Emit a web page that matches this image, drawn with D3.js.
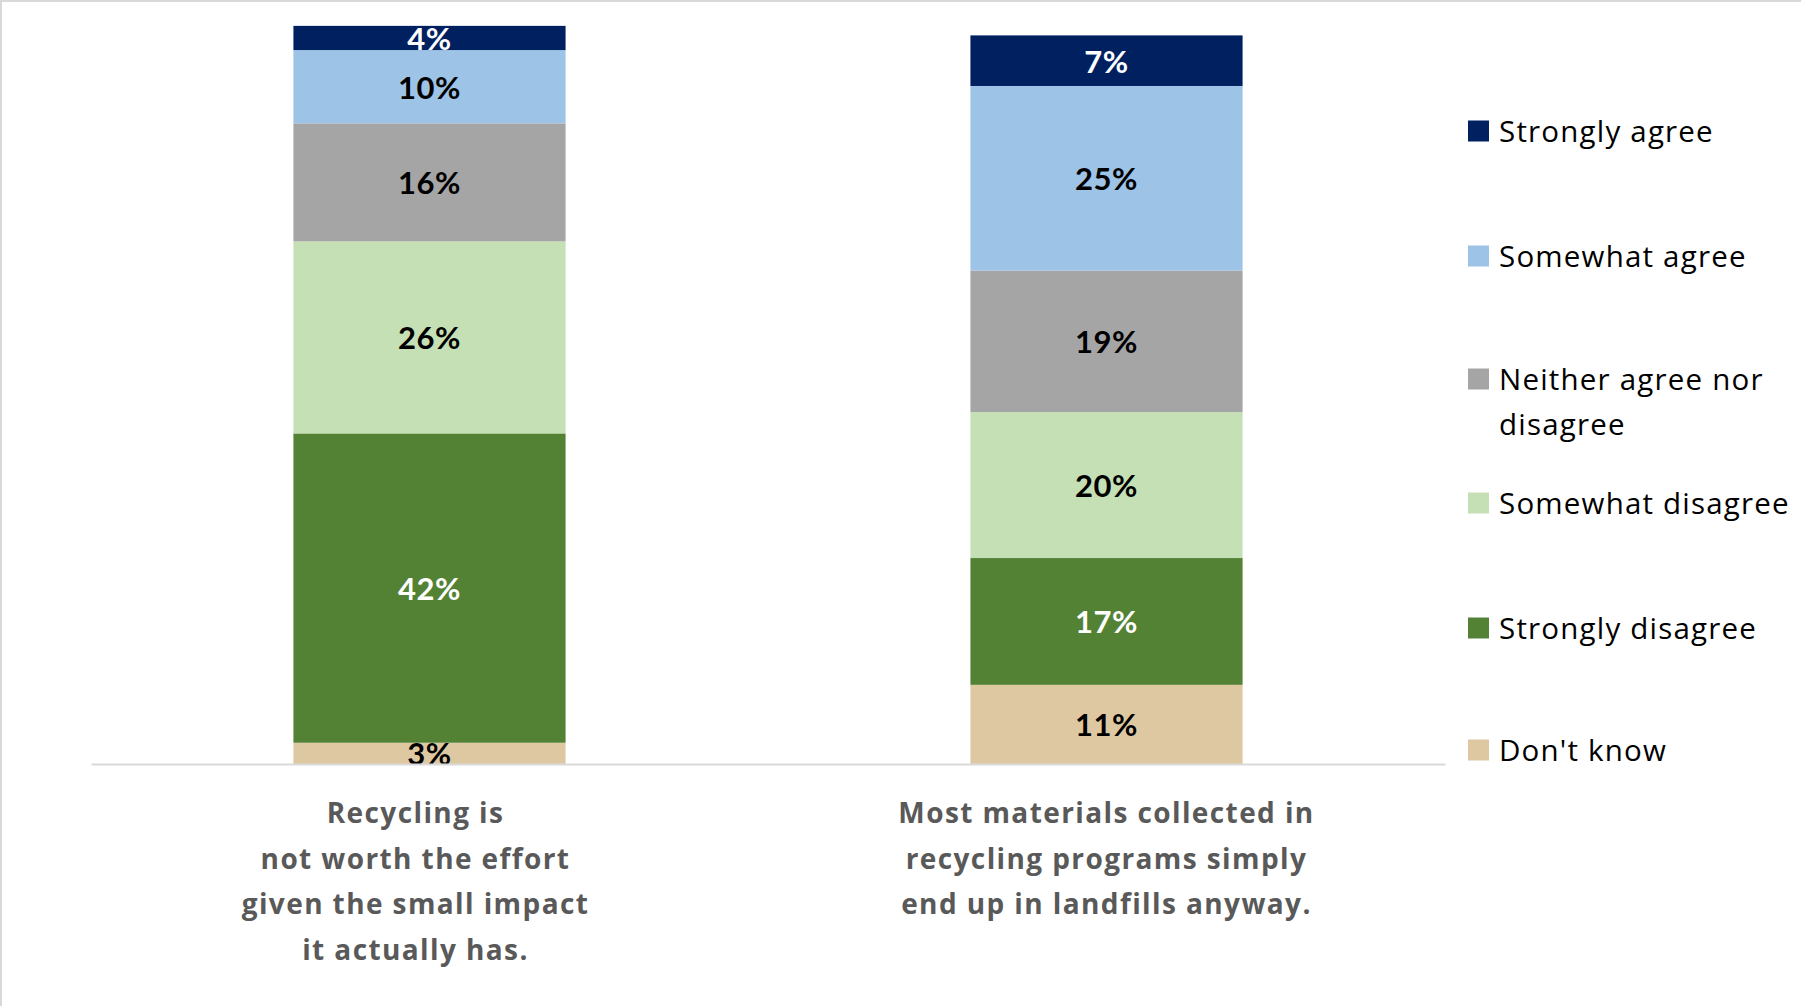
<!DOCTYPE html>
<html>
<head>
<meta charset="utf-8">
<script src="https://cdn.jsdelivr.net/npm/d3@7"></script>
<style>
  html, body { margin: 0; padding: 0; background: #fff; }
  svg { display: block; }
</style>
</head>
<body>
<svg id="chart" width="1801" height="1006"></svg>
<script>
// ---- data ----
const categories = [
  "Recycling is\nnot worth the effort\ngiven the small impact\nit actually has.",
  "Most materials collected in\nrecycling programs simply\nend up in landfills anyway."
];
// series listed bottom-to-top in stacking order
const seriesNames = ["Don't know", "Strongly disagree", "Somewhat disagree", "Neither agree nor disagree", "Somewhat agree", "Strongly agree"];
const seriesColors = ["#DEC8A2", "#548235", "#C5E0B4", "#A5A5A5", "#9DC3E6", "#002060"];
const labelColors  = ["#000", "#fff", "#000", "#000", "#000", "#fff"];
// values per series, one per category
const dontKnow         = [2.9, 10.8];
const stronglyDisagree = [42.2, 17.3];
const somewhatDisagree = [26.2, 19.9];
const neitherAgree     = [16.1, 19.3];
const somewhatAgree    = [10.0, 25.2];
const stronglyAgree    = [3.3, 6.9];
// printed labels
const dontKnowLbl         = ["3%", "11%"];
const stronglyDisagreeLbl = ["42%", "17%"];
const somewhatDisagreeLbl = ["26%", "20%"];
const neitherAgreeLbl     = ["16%", "19%"];
const somewhatAgreeLbl    = ["10%", "25%"];
const stronglyAgreeLbl    = ["4%", "7%"];
// legend order (top to bottom)
const legendOrder = ["Strongly agree", "Somewhat agree", "Neither agree nor disagree", "Somewhat disagree", "Strongly disagree", "Don't know"];
const legendLines = [["Strongly agree"], ["Somewhat agree"], ["Neither agree nor", "disagree"], ["Somewhat disagree"], ["Strongly disagree"], ["Don't know"]];

const seriesValues = [dontKnow, stronglyDisagree, somewhatDisagree, neitherAgree, somewhatAgree, stronglyAgree];
const seriesLabels = [dontKnowLbl, stronglyDisagreeLbl, somewhatDisagreeLbl, neitherAgreeLbl, somewhatAgreeLbl, stronglyAgreeLbl];

// ---- build table ----
const table = categories.map((c, i) => {
  const row = { category: c };
  seriesNames.forEach((s, j) => row[s] = seriesValues[j][i]);
  return row;
});
const stacked = d3.stack().keys(seriesNames)(table);

const svg = d3.select("#chart");
svg.append("rect").attr("x", 1).attr("y", 1).attr("width", 1820).attr("height", 1020)
  .attr("fill", "#fff").attr("stroke", "#D9D9D9").attr("stroke-width", 2);

const x = d3.scaleBand().domain(categories).range([91, 1445]).paddingInner(0.598).paddingOuter(0.299);
const y = d3.scaleLinear().domain([0, 100]).range([764, 31]);
const color = d3.scaleOrdinal().domain(seriesNames).range(seriesColors);

const layers = svg.append("g").selectAll("g").data(stacked).join("g")
  .attr("fill", d => color(d.key));
layers.selectAll("rect").data(d => d).join("rect")
  .attr("x", d => x(d.data.category))
  .attr("width", x.bandwidth())
  .attr("y", d => y(d[1]))
  .attr("height", d => y(d[0]) - y(d[1]));

// data labels
stacked.forEach((layer, j) => {
  svg.append("g").selectAll("text").data(layer).join("text")
    .attr("x", d => x(d.data.category) + x.bandwidth() / 2)
    .attr("y", d => (y(d[0]) + y(d[1])) / 2)
    .attr("text-anchor", "middle")
    .attr("dominant-baseline", "central")
    .attr("font-family", "Lato, 'Open Sans', sans-serif")
    .attr("font-weight", "bold")
    .attr("font-size", 31)
    .attr("letter-spacing", 0.5)
    .attr("fill", labelColors[j])
    .text((d, i) => seriesLabels[j][i]);
});

// baseline axis
const xAxis = d3.axisBottom(x).tickSize(0).tickFormat("");
const axG = svg.append("g").attr("transform", `translate(0,${y(0)})`).call(xAxis);
axG.select(".domain").attr("stroke", "#D9D9D9").attr("stroke-width", 2);

// category labels (first label is set slightly left, as in the source)
const catShift = [-14, 0];
const catG = svg.append("g");
categories.forEach((c, i) => {
  const t = catG.append("text")
    .attr("text-anchor", "middle")
    .attr("font-family", "'Open Sans', Lato, sans-serif")
    .attr("font-weight", "bold")
    .attr("font-size", 28)
    .attr("letter-spacing", 1.4)
    .attr("fill", "#595959");
  c.split("\n").forEach((line, k) => {
    t.append("tspan")
      .attr("x", x(c) + x.bandwidth() / 2 + catShift[i])
      .attr("y", 823 + k * 45.7)
      .text(line);
  });
});

// legend
const legendY = [131, 256, 379, 503, 628, 750];
const lg = svg.append("g");
legendOrder.forEach((name, i) => {
  lg.append("rect")
    .attr("x", 1468).attr("y", legendY[i] - 10.5)
    .attr("width", 21).attr("height", 21)
    .attr("fill", color(name));
  const t = lg.append("text")
    .attr("font-family", "'Open Sans', Lato, sans-serif")
    .attr("font-size", 29.5)
    .attr("letter-spacing", 1.2)
    .attr("fill", "#000");
  legendLines[i].forEach((line, k) => {
    t.append("tspan")
      .attr("x", 1499)
      .attr("y", legendY[i] + 11 + k * 45)
      .text(line);
  });
});
</script>
</body>
</html>
